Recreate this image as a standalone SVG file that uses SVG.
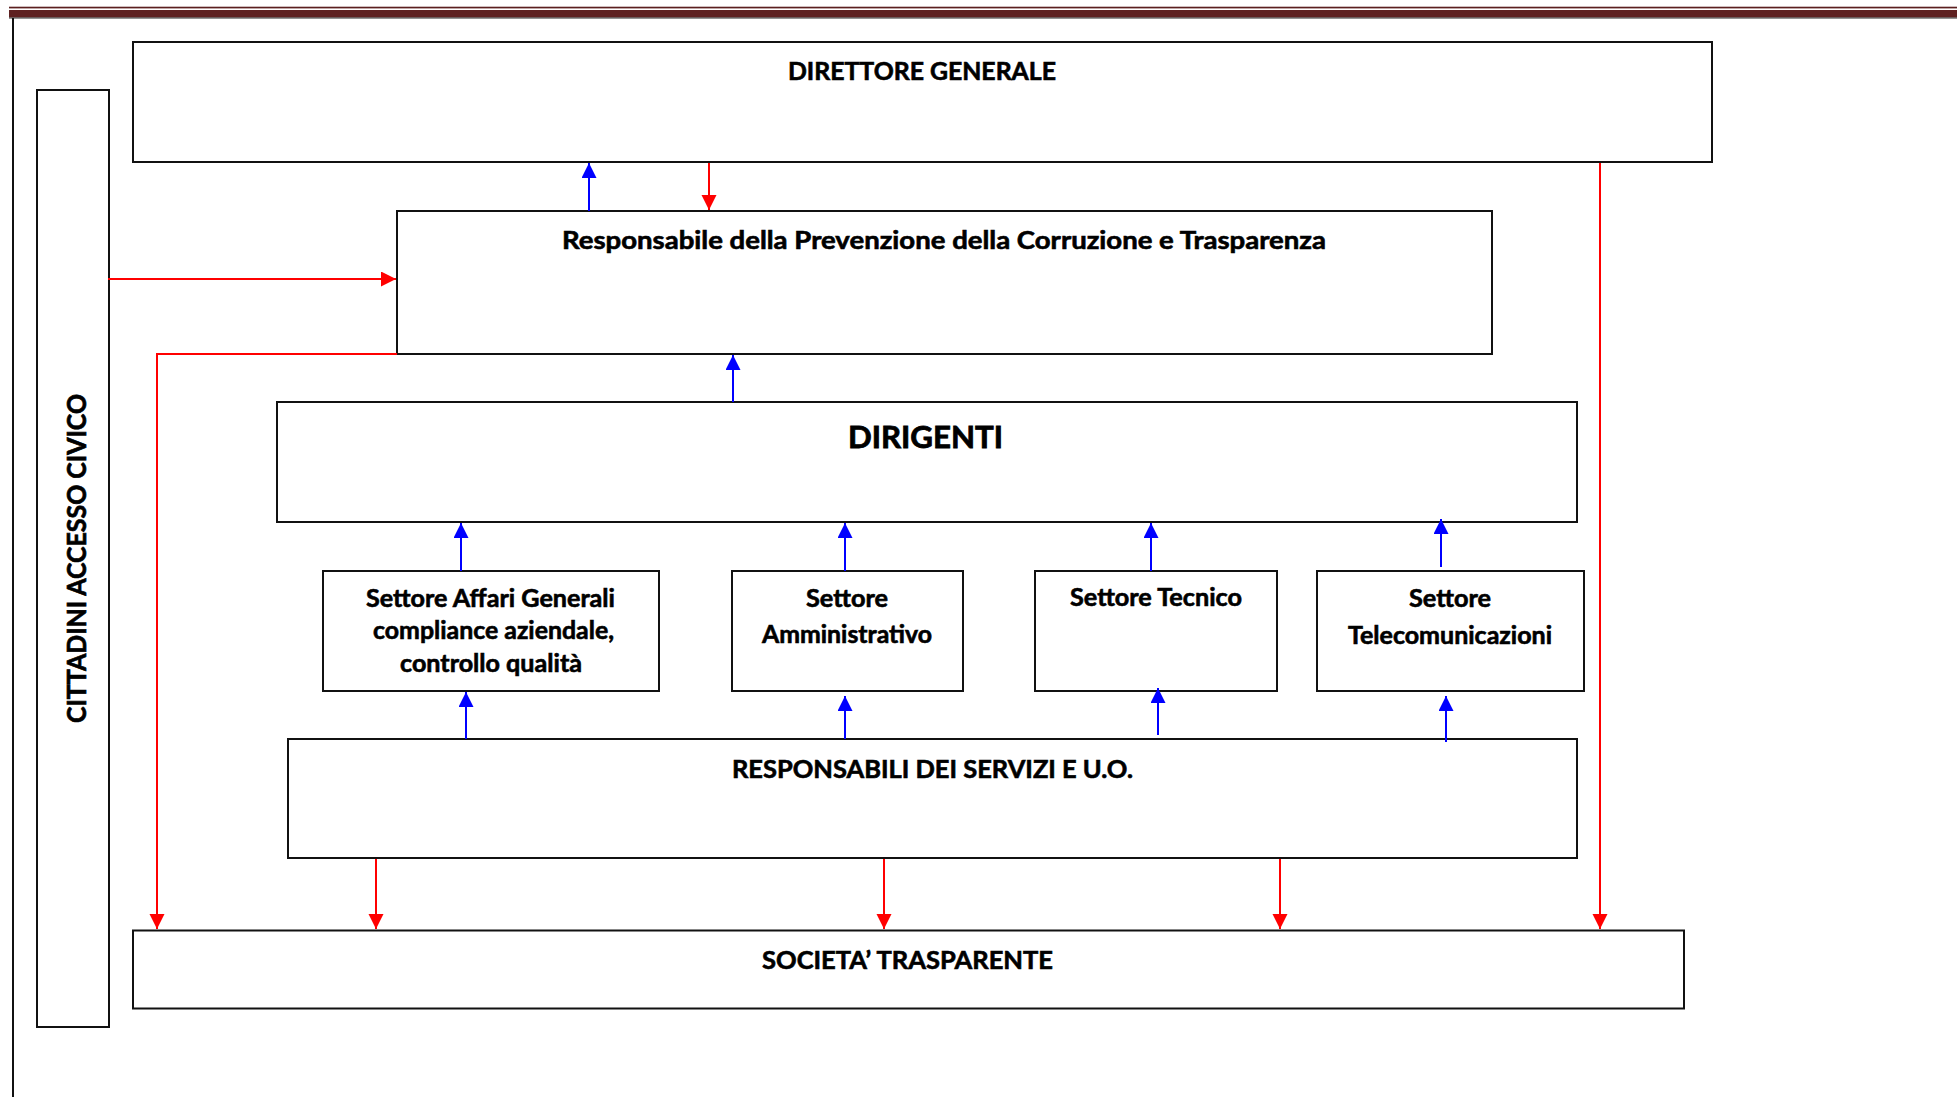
<svg xmlns="http://www.w3.org/2000/svg" width="1957" height="1097" viewBox="0 0 1957 1097">
<style>
  .box { fill: #ffffff; stroke: #111111; stroke-width: 2; }
  .t { font-family: Lato, "Liberation Sans", sans-serif; font-weight: bold; font-size: 24px; fill: #000000; stroke: #000000; stroke-width: 0.6; }
  .big { font-size: 30px; stroke-width: 0.8; }
  .side { font-size: 27px; stroke-width: 0.7; }
  .red { stroke: #ff0000; stroke-width: 2; fill: none; }
  .blue { stroke: #0000ff; stroke-width: 2; fill: none; }
</style>
<defs>
  <marker id="ar" markerUnits="userSpaceOnUse" markerWidth="16" markerHeight="16" refX="15" refY="7.5" orient="auto">
    <path d="M0,0 L15,7.5 L0,15 z" fill="#ff0000"/>
  </marker>
  <marker id="ab" markerUnits="userSpaceOnUse" markerWidth="16" markerHeight="16" refX="15" refY="7.5" orient="auto">
    <path d="M0,0 L15,7.5 L0,15 z" fill="#0000ff"/>
  </marker>
</defs>
<rect x="0" y="0" width="1957" height="1097" fill="#ffffff"/>
<g id="page-frame">
  <rect x="9" y="6.7" width="1948" height="1.7" fill="#5b1f1f"/>
  <rect x="9" y="10" width="1948" height="7.5" fill="#5e2121"/>
  <line x1="9" y1="18" x2="1957" y2="18" stroke="#2a2a2a" stroke-width="1"/>
  <line x1="13" y1="18" x2="13" y2="1097" stroke="#111111" stroke-width="2"/>
</g>
<g id="cittadini">
  <rect class="box" x="37" y="90" width="72" height="937"/>
  <text class="t side" x="86" y="723" transform="rotate(-90 86 723)" textLength="329" lengthAdjust="spacingAndGlyphs">CITTADINI ACCESSO CIVICO</text>
</g>
<g id="direttore">
  <rect class="box" x="133" y="42" width="1579" height="120"/>
  <text class="t" x="788" y="80" textLength="268" lengthAdjust="spacingAndGlyphs">DIRETTORE GENERALE</text>
</g>
<g id="rpct">
  <rect class="box" x="397" y="211" width="1095" height="143"/>
  <text class="t" x="562" y="249" textLength="764" lengthAdjust="spacingAndGlyphs">Responsabile della Prevenzione della Corruzione e Trasparenza</text>
</g>
<g id="dirigenti">
  <rect class="box" x="277" y="402" width="1300" height="120"/>
  <text class="t big" x="848" y="448" textLength="155" lengthAdjust="spacingAndGlyphs">DIRIGENTI</text>
</g>
<g id="settore-affari">
  <rect class="box" x="323" y="571" width="336" height="120"/>
  <text class="t" x="366" y="607" textLength="249" lengthAdjust="spacingAndGlyphs">Settore Affari Generali</text>
  <text class="t" x="373" y="639" textLength="241" lengthAdjust="spacingAndGlyphs">compliance aziendale,</text>
  <text class="t" x="400" y="672" textLength="182" lengthAdjust="spacingAndGlyphs">controllo qualità</text>
</g>
<g id="settore-amministrativo">
  <rect class="box" x="732" y="571" width="231" height="120"/>
  <text class="t" x="806" y="607" textLength="82" lengthAdjust="spacingAndGlyphs">Settore</text>
  <text class="t" x="762" y="643" textLength="170" lengthAdjust="spacingAndGlyphs">Amministrativo</text>
</g>
<g id="settore-tecnico">
  <rect class="box" x="1035" y="571" width="242" height="120"/>
  <text class="t" x="1070" y="606" textLength="172" lengthAdjust="spacingAndGlyphs">Settore Tecnico</text>
</g>
<g id="settore-telecomunicazioni">
  <rect class="box" x="1317" y="571" width="267" height="120"/>
  <text class="t" x="1409" y="607" textLength="82" lengthAdjust="spacingAndGlyphs">Settore</text>
  <text class="t" x="1348" y="644" textLength="204" lengthAdjust="spacingAndGlyphs">Telecomunicazioni</text>
</g>
<g id="responsabili">
  <rect class="box" x="288" y="739" width="1289" height="119"/>
  <text class="t" x="732" y="778" textLength="401" lengthAdjust="spacingAndGlyphs">RESPONSABILI DEI SERVIZI E U.O.</text>
</g>
<g id="societa">
  <rect class="box" x="133" y="930.5" width="1551" height="78"/>
  <text class="t" x="762" y="969" textLength="291" lengthAdjust="spacingAndGlyphs">SOCIETA’ TRASPARENTE</text>
</g>
<g id="connectors">
  <line class="blue" x1="589" y1="211" x2="589" y2="163" marker-end="url(#ab)"/>
  <line class="red" x1="709" y1="163" x2="709" y2="210" marker-end="url(#ar)"/>
  <line class="red" x1="108" y1="279" x2="396" y2="279" marker-end="url(#ar)"/>
  <polyline class="red" points="397,354 157,354 157,929" marker-end="url(#ar)"/>
  <line class="red" x1="1600" y1="163" x2="1600" y2="929" marker-end="url(#ar)"/>
  <line class="blue" x1="733" y1="402" x2="733" y2="355" marker-end="url(#ab)"/>
  <line class="blue" x1="461" y1="571" x2="461" y2="523" marker-end="url(#ab)"/>
  <line class="blue" x1="845" y1="571" x2="845" y2="523" marker-end="url(#ab)"/>
  <line class="blue" x1="1151" y1="571" x2="1151" y2="523" marker-end="url(#ab)"/>
  <line class="blue" x1="1441" y1="567" x2="1441" y2="519" marker-end="url(#ab)"/>
  <line class="blue" x1="466" y1="739" x2="466" y2="692" marker-end="url(#ab)"/>
  <line class="blue" x1="845" y1="739" x2="845" y2="696" marker-end="url(#ab)"/>
  <line class="blue" x1="1158" y1="735" x2="1158" y2="688" marker-end="url(#ab)"/>
  <line class="blue" x1="1446" y1="742" x2="1446" y2="696" marker-end="url(#ab)"/>
  <line class="red" x1="376" y1="859" x2="376" y2="929" marker-end="url(#ar)"/>
  <line class="red" x1="884" y1="859" x2="884" y2="929" marker-end="url(#ar)"/>
  <line class="red" x1="1280" y1="859" x2="1280" y2="929" marker-end="url(#ar)"/>
</g>
</svg>
